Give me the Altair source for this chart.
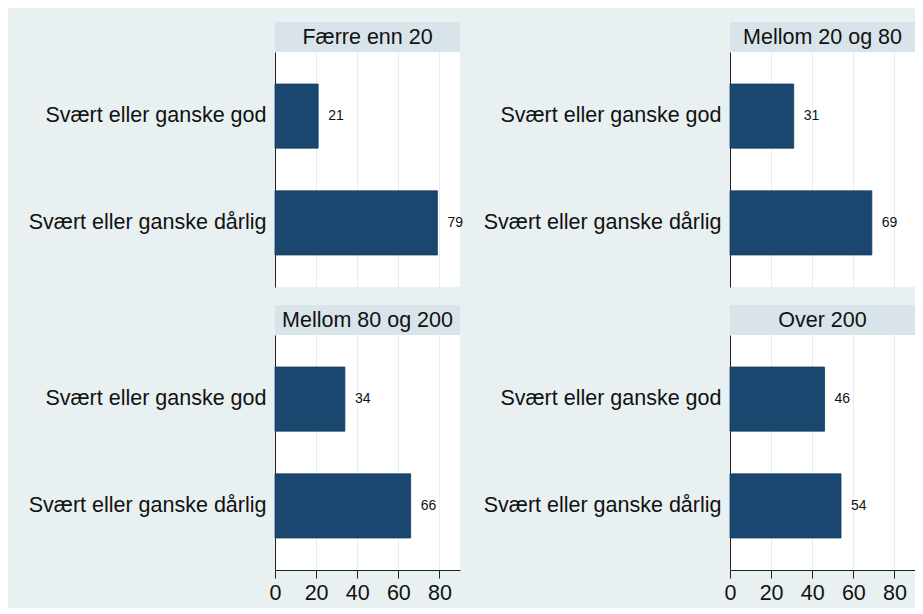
import altair as alt
import pandas as pd

groups = ["Færre enn 20", "Mellom 20 og 80", "Mellom 80 og 200", "Over 200"]
categories = ["Svært eller ganske god", "Svært eller ganske dårlig"]
god = [21, 31, 34, 46]
darlig = [79, 69, 66, 54]

rows = []
for g, a, b in zip(groups, god, darlig):
    rows.append({"group": g, "category": categories[0], "value": a})
    rows.append({"group": g, "category": categories[1], "value": b})
df = pd.DataFrame(rows)

W = 185
H = 235
HEAD = 30
BG = "#E8F0F2"
HEADER = "#D8E4EA"
GRID = "#E4EDF1"
BAR = "#1A476F"
INK = "#111111"
FS = 21.5


def panel(g, show_x):
    base = alt.Chart(df).transform_filter(alt.datum.group == g)
    x = alt.X(
        "value:Q",
        scale=alt.Scale(domain=[0, 90], nice=False, zero=True),
        axis=alt.Axis(
            values=[0, 20, 40, 60, 80],
            title=None,
            grid=True,
            gridColor=GRID,
            gridWidth=1,
            labels=show_x,
            ticks=show_x,
            domain=show_x,
            domainColor="#222222",
            tickColor="#222222",
            tickSize=8,
            labelFontSize=FS,
            labelColor=INK,
            labelPadding=4,
            labelFlush=False,
        ),
    )
    y = alt.Y(
        "category:N",
        sort=categories,
        scale=alt.Scale(paddingInner=0.4, paddingOuter=0.3),
        axis=alt.Axis(
            title=None,
            ticks=False,
            domainColor="#222222",
            labelFontSize=FS,
            labelColor=INK,
            labelPadding=9,
            labelLimit=400,
        ),
    )
    bars = base.mark_bar(color=BAR, stroke="#143a5c", strokeWidth=0.8).encode(x=x, y=y)
    labels = base.mark_text(align="left", baseline="middle", dx=10, fontSize=14, color=INK).encode(
        x=x, y=y, text="value:Q"
    )
    hdr = pd.DataFrame({"group": [g]})
    head_rect = alt.Chart(hdr).mark_rect(color=HEADER).encode(
        x=alt.value(0), x2=alt.value(W), y=alt.value(-HEAD), y2=alt.value(0)
    )
    head_text = alt.Chart(hdr).mark_text(fontSize=FS, color=INK, baseline="middle", align="center").encode(
        x=alt.value(W / 2), y=alt.value(-HEAD / 2 + 1), text="group:N"
    )
    return alt.layer(head_rect, head_text, bars, labels).properties(width=W, height=H)


chart = (
    alt.concat(
        panel(groups[0], False),
        panel(groups[1], False),
        panel(groups[2], True),
        panel(groups[3], True),
        columns=2,
        spacing={"row": 18, "column": 20},
    )
    .properties(background=BG, padding={"left": 20, "top": 14, "right": 0, "bottom": 4})
    .configure(font="Liberation Sans")
    .configure_view(stroke=None, fill="white")
)

chart.save("out.html", embed_options={"renderer": "svg", "actions": False})
